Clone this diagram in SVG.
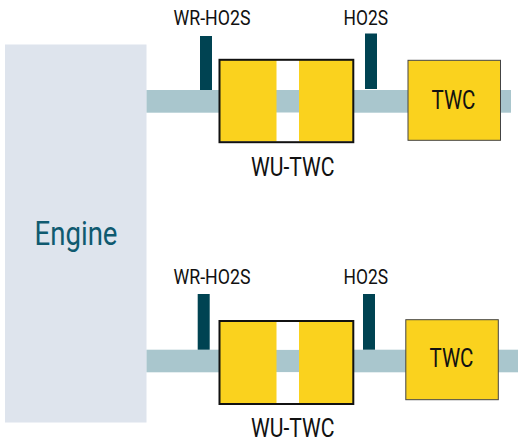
<svg xmlns="http://www.w3.org/2000/svg" width="518" height="444" viewBox="0 0 518 444">
<style>
text{font-family:"Roboto","Liberation Sans",sans-serif;fill:#111;text-anchor:start}
.s{font-size:19.5px}.m{font-size:25px}
.pipe{fill:#a9c6cd}.sensor{fill:#004352}.y{fill:#fad21e}
.box{fill:none;stroke:#111;stroke-width:2}
.twc{fill:#fad21e;stroke:#444;stroke-width:1}
.gap{fill:#fff}
</style>
<g id="engine"><rect x="5" y="44.5" width="141.5" height="378" fill="#dee4ed"/>
<text x="34.5" y="245" font-size="34" style="fill:#0f5a70" textLength="83" lengthAdjust="spacingAndGlyphs">Engine</text></g>
<g id="connectors">
<rect class="pipe" x="146.5" y="90" width="364.5" height="22.7"/>
<rect class="pipe" x="146.5" y="349.7" width="371.5" height="22.6"/>
</g>
<g id="top-wr-ho2s"><rect class="sensor" x="200" y="36" width="12" height="54"/>
<text class="s" x="173.5" y="25" textLength="77" lengthAdjust="spacingAndGlyphs">WR-HO2S</text></g>
<g id="top-ho2s"><rect class="sensor" x="365" y="33.5" width="12" height="55.5"/>
<text class="s" x="343.5" y="25" textLength="44.5" lengthAdjust="spacingAndGlyphs">HO2S</text></g>
<g id="top-wu-twc">
<rect class="gap" x="276" y="60" width="24" height="30"/><rect class="gap" x="276" y="112.7" width="24" height="29"/>
<rect class="y" x="220" y="60" width="56.5" height="81.5"/><rect class="y" x="299" y="60" width="54" height="81.5"/>
<rect class="box" x="219.5" y="59.8" width="133.8" height="82.4"/>
<text class="m" x="251" y="176" textLength="83.5" lengthAdjust="spacingAndGlyphs">WU-TWC</text></g>
<g id="top-twc"><rect class="twc" x="408" y="60.3" width="92.5" height="80"/>
<text class="m" x="431.5" y="108.5" textLength="44" lengthAdjust="spacingAndGlyphs">TWC</text></g>
<g id="bottom-wr-ho2s"><rect class="sensor" x="197.7" y="294" width="12" height="55.7"/>
<text class="s" x="173.5" y="283.5" textLength="77" lengthAdjust="spacingAndGlyphs">WR-HO2S</text></g>
<g id="bottom-ho2s"><rect class="sensor" x="363" y="294" width="12" height="55.7"/>
<text class="s" x="343.5" y="283.5" textLength="44.5" lengthAdjust="spacingAndGlyphs">HO2S</text></g>
<g id="bottom-wu-twc">
<rect class="gap" x="276" y="322" width="24" height="27.7"/><rect class="gap" x="276" y="372.3" width="24" height="31"/>
<rect class="y" x="220" y="322" width="56.5" height="81.5"/><rect class="y" x="299" y="322" width="54" height="81.5"/>
<rect class="box" x="219.5" y="321" width="133.8" height="83"/>
<text class="m" x="251" y="437" textLength="83.5" lengthAdjust="spacingAndGlyphs">WU-TWC</text></g>
<g id="bottom-twc"><rect class="twc" x="405.8" y="319.7" width="92.5" height="80"/>
<text class="m" x="429.5" y="367" textLength="44" lengthAdjust="spacingAndGlyphs">TWC</text></g>
</svg>
